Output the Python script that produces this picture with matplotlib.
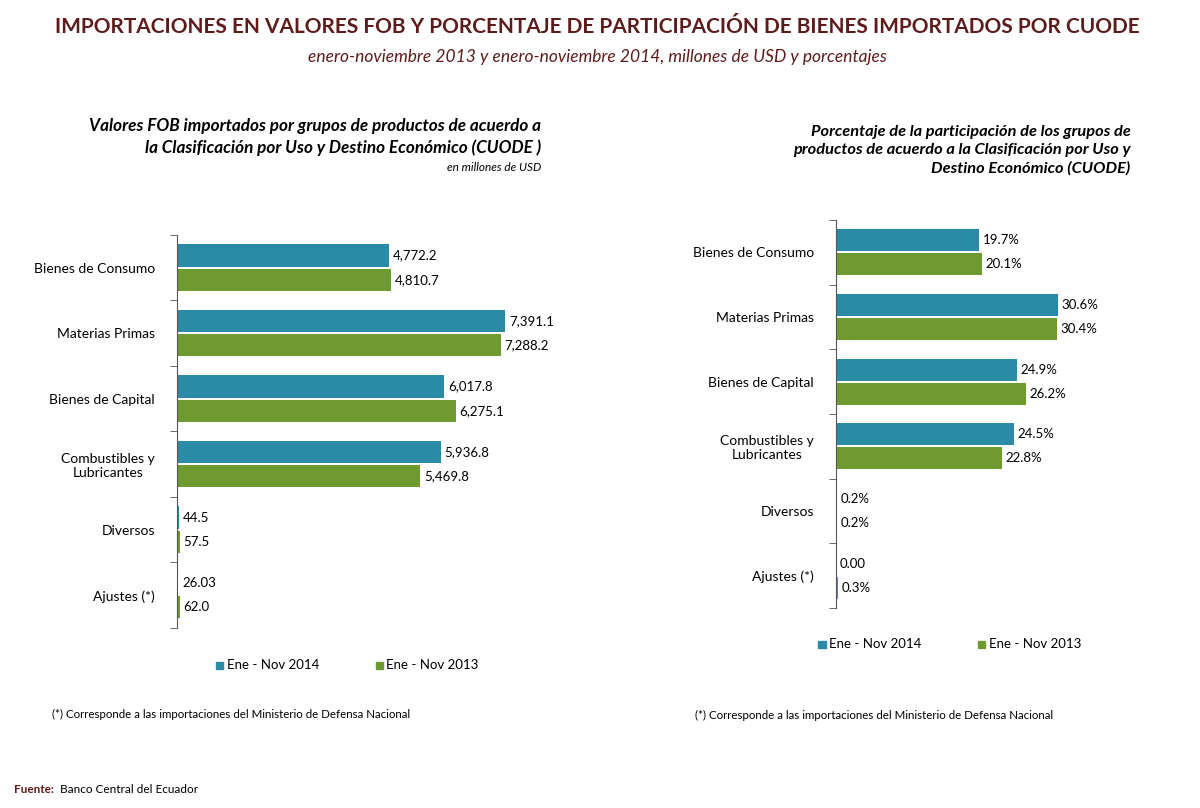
import matplotlib
matplotlib.use('Agg')
import matplotlib.pyplot as plt
import numpy as np

plt.rcParams['font.family'] = ['Lato', 'DejaVu Sans']

categories = ['Bienes de Consumo', 'Materias Primas', 'Bienes de Capital',
              'Combustibles y\nLubricantes', 'Diversos', 'Ajustes (*)']
fob_2014 = [4772.2, 7391.1, 6017.8, 5936.8, 44.5, 26.03]
fob_2013 = [4810.7, 7288.2, 6275.1, 5469.8, 57.5, 62.0]
fob_2014_lbl = ['4,772.2', '7,391.1', '6,017.8', '5,936.8', '44.5', '26.03']
fob_2013_lbl = ['4,810.7', '7,288.2', '6,275.1', '5,469.8', '57.5', '62.0']
pct_2014 = [19.7, 30.6, 24.9, 24.5, 0.2, 0.0]
pct_2013 = [20.1, 30.4, 26.2, 22.8, 0.2, 0.3]
pct_2014_lbl = ['19.7%', '30.6%', '24.9%', '24.5%', '0.2%', '0.00']
pct_2013_lbl = ['20.1%', '30.4%', '26.2%', '22.8%', '0.2%', '0.3%']
series = ['Ene - Nov 2014', 'Ene - Nov 2013']

BLUE = '#2b8aa6'
GREEN = '#6f9a2f'
BROWN = '#5e1b1b'

fig = plt.figure(figsize=(12, 8.08), dpi=100)
fig.patch.set_facecolor('white')

fig.text(0.498, 0.966, 'IMPORTACIONES EN VALORES FOB Y PORCENTAJE DE PARTICIPACIÓN DE BIENES IMPORTADOS POR CUODE',
         ha='center', va='center', fontsize=15, fontweight='bold', color=BROWN)
fig.text(0.498, 0.930, 'enero-noviembre 2013 y enero-noviembre 2014, millones de USD y porcentajes',
         ha='center', va='center', fontsize=12.5, style='italic', color=BROWN)


def bar_panel(ax, v14, v13, l14, l13, xmax, pad):
    y = np.arange(len(categories))
    h = 0.34
    ax.barh(y - 0.185, v14, height=h, color=BLUE)
    ax.barh(y + 0.185, v13, height=h, color=GREEN)
    for i in range(len(categories)):
        ax.text(v14[i] + pad, y[i] - 0.185, l14[i], va='center', ha='left', fontsize=9.5)
        ax.text(v13[i] + pad, y[i] + 0.185, l13[i], va='center', ha='left', fontsize=9.5)
    ax.set_xlim(0, xmax)
    ax.set_ylim(len(categories) - 0.5, -0.5)
    ax.set_yticks(y)
    ax.set_yticklabels(categories, fontsize=10)
    for t in ax.get_yticklabels():
        t.set_multialignment('center')
    ax.set_yticks(np.arange(len(categories) + 1) - 0.5, minor=True)
    ax.tick_params(axis='y', which='major', length=0, pad=16)
    ax.tick_params(axis='y', which='minor', length=5, color='#555555', direction='out')
    ax.set_xticks([])
    for s in ['top', 'right', 'bottom']:
        ax.spines[s].set_visible(False)
    ax.spines['left'].set_color('#555555')


ax1 = fig.add_axes([0.1475, 0.2228, 0.296, 0.4864])
bar_panel(ax1, fob_2014, fob_2013, fob_2014_lbl, fob_2013_lbl, 8000, 90)

ax2 = fig.add_axes([0.6967, 0.2475, 0.2117, 0.4802])
bar_panel(ax2, pct_2014, pct_2013, pct_2014_lbl, pct_2013_lbl, 35, 0.5)

# panel subtitles
fig.text(0.451, 0.830, 'Valores FOB importados por grupos de productos de acuerdo a\n'
         'la Clasificación por Uso y Destino Económico (CUODE )',
         ha='right', va='center', fontsize=12.3, fontweight='bold', style='italic', linespacing=1.4)
fig.text(0.451, 0.793, 'en millones de USD', ha='right', va='center', fontsize=8.5, style='italic')
fig.text(0.942, 0.814, 'Porcentaje de la participación de los grupos de\n'
         'productos de acuerdo a la Clasificación por Uso y\n'
         'Destino Económico (CUODE)',
         ha='right', va='center', fontsize=11.8, fontweight='bold', style='italic', linespacing=1.4)

# legends
for (x0, y0) in [(0.180, 0.177), (0.682, 0.203)]:
    for k, (name, col) in enumerate(zip(series, [BLUE, GREEN])):
        xx = x0 + k * 0.133
        fig.patches.append(plt.Rectangle((xx, y0 - 0.005), 0.006, 0.009, color=col,
                                         transform=fig.transFigure, figure=fig))
        fig.text(xx + 0.009, y0, name, ha='left', va='center', fontsize=9.5)

note = '(*) Corresponde a las importaciones del Ministerio de Defensa Nacional'
fig.text(0.043, 0.116, note, ha='left', va='center', fontsize=8.3)
fig.text(0.579, 0.114, note, ha='left', va='center', fontsize=8.3)

fig.text(0.012, 0.023, 'Fuente:', ha='left', va='center', fontsize=8.5, fontweight='bold', color=BROWN)
fig.text(0.050, 0.023, 'Banco Central del Ecuador', ha='left', va='center', fontsize=8.5)

fig.savefig('out.png', dpi=100, facecolor='white')
